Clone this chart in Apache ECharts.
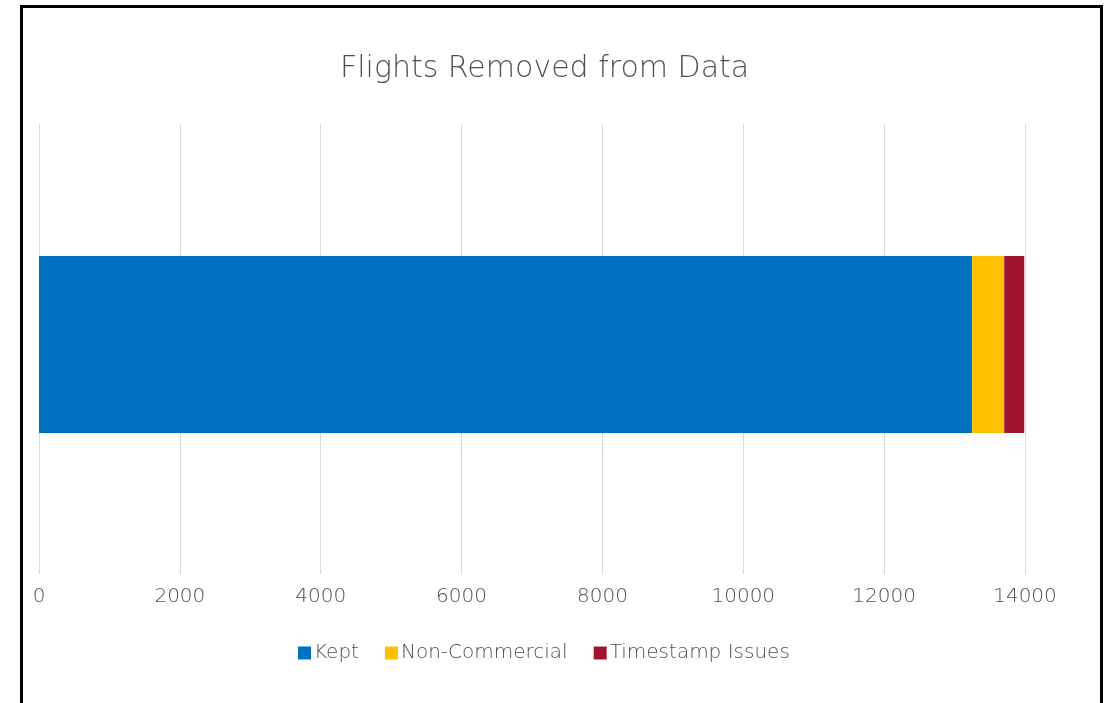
<!DOCTYPE html>
<html><head><meta charset="utf-8">
<script src="https://cdn.jsdelivr.net/npm/echarts@6/dist/echarts.min.js"></script>
<style>html,body{margin:0;padding:0;background:#fff}#c{width:1107px;height:703px}</style>
</head><body><div id="c"></div>
<script>
const categories = ['Flights'];
const seriesNames = ['Kept', 'Non-Commercial', 'Timestamp Issues'];
const kept = [13250];
const nonCommercial = [455];
const timestampIssues = [284];
const colors = ['#0070C0', '#FFC000', '#A01430'];
const xTicks = {min: 0, max: 14000, interval: 2000};

const chart = echarts.init(document.getElementById('c'), null, {renderer: 'canvas'});
const font = '"DejaVu Sans", sans-serif';
const dataArr = [kept, nonCommercial, timestampIssues];
chart.setOption({
  animation: false,
  title: {text: 'Flights Removed from Data', left: 335, top: 49,
    textStyle: {fontFamily: font, fontWeight: 200, fontSize: 30, color: '#4f4f4f'}},
  graphic: [{type: 'rect', shape: {x: 21.5, y: 6.5, width: 1080, height: 720},
    style: {fill: 'none', stroke: '#000', lineWidth: 3}, silent: true}],
  legend: {top: 638, left: 293, itemWidth: 13, itemHeight: 13, itemGap: 26,
    icon: 'rect', textStyle: {fontFamily: font, fontWeight: 200, fontSize: 20, color: '#4f4f4f', padding: [0,0,0,-2]},
    data: seriesNames},
  grid: [
    {left: 39, right: 82, top: 124, bottom: 129},
    {left: 39, right: 82, top: 124, bottom: 138}
  ],
  xAxis: [
    {gridIndex: 0, type: 'value', min: xTicks.min, max: xTicks.max, interval: xTicks.interval,
      axisLine: {show: false}, axisTick: {show: false},
      splitLine: {lineStyle: {color: '#D9D9D9', width: 1}},
      axisLabel: {fontFamily: font, fontWeight: 200, fontSize: 20, color: '#4f4f4f', margin: 13,
        formatter: v => String(v)}},
    {gridIndex: 1, type: 'value', min: xTicks.min, max: xTicks.max, interval: xTicks.interval,
      show: false, splitLine: {show: false}}
  ],
  yAxis: [
    {gridIndex: 0, type: 'category', data: categories, show: false},
    {gridIndex: 1, type: 'category', data: categories, axisLine: {show: false}, axisTick: {show: false},
      axisLabel: {show: false}}
  ],
  series: seriesNames.map((n, i) => ({name: n, type: 'bar', stack: 'total', data: dataArr[i],
    xAxisIndex: 1, yAxisIndex: 1,
    barWidth: 177, itemStyle: {color: colors[i]}}))
});
</script></body></html>
